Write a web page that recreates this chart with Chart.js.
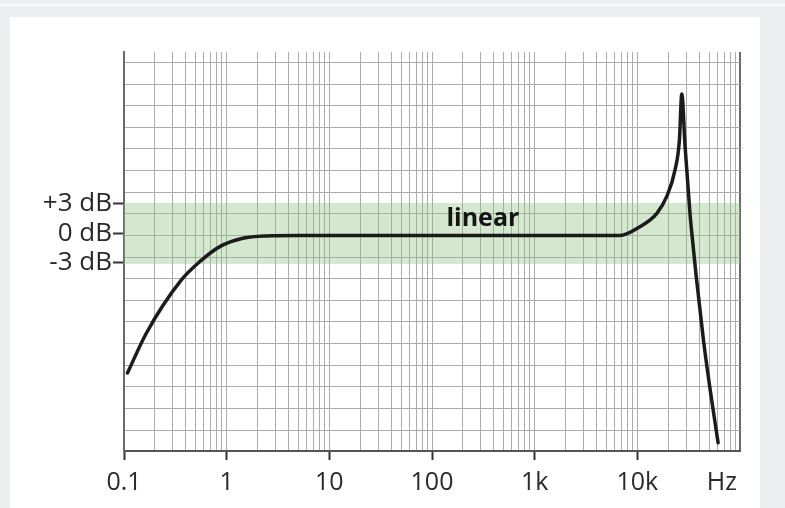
<!DOCTYPE html>
<html>
<head>
<meta charset="utf-8">
<script src="https://cdn.jsdelivr.net/npm/chart.js@4.4.1/dist/chart.umd.min.js"></script>
<style>
    html, body { margin: 0; padding: 0; }
    body { width: 785px; height: 508px; background: #eceef2; position: relative; overflow: hidden; }
    .linha { position: absolute; left: 0; top: 4px; width: 785px; height: 2px; background: #f7f8fa; }
    .cartao { position: absolute; left: 10px; top: 17px; width: 750px; height: 491px; background: #ffffff; }
    #grafico { position: absolute; left: 0; top: 0; }
</style>
</head>
<body>
<div class="linha"></div>
<div class="cartao"></div>
<canvas id="grafico" width="785" height="508"></canvas>
<script>
// frequência (Hz) e nível (dB)
const frequencias = [0.108, 0.165, 0.362, 0.547, 0.857, 1.44, 2.44, 5, 50, 500, 5000, 6760,
    10600, 15500, 19300, 23300, 25700, 27100, 29200, 32600, 34500, 37300, 44000, 51200, 61200];
const niveis = [-14.2, -10.15, -4.73, -2.87, -1.34, -0.49, -0.25, -0.2, -0.2, -0.2, -0.2, -0.2,
    0.69, 2.05, 3.74, 6.46, 9.5, 14.2, 8.8, 2.0, -0.7, -4.2, -10.8, -15.9, -21.3];

// rótulos dos eixos
const decadas = [0.1, 1, 10, 100, 1000, 10000];
const rotulosX = ['0.1', '1', '10', '100', '1k', '10k'];
const unidadeX = 'Hz';
const posUnidadeX = 66500;
const valoresDb = [3, 0, -3];
const rotulosDb = ['+3 dB', '0 dB', '-3 dB'];

// faixa linear (dB) e texto
const faixaAlta = 3.1;
const faixaBaixa = -3.1;
const textoFaixa = 'linear';
const textoFreq = 313;
const textoDb = 1.5;

const xMin = 0.1, xMax = 100000;
const yMin = -22.13, yMax = 18.46;
const passoGrade = 2.2, origemGrade = -0.2;

const corGrade = '#acacac';
const corTexto = '#2a2a2a';
const fonte = "'Open Sans', 'DejaVu Sans', sans-serif";

const ticksX = [];
for (let d = xMin; d < xMax; d *= 10) {
    for (let m = 1; m <= 9; m++) ticksX.push(+(d * m).toPrecision(3));
}
ticksX.push(xMax);
ticksX.push(posUnidadeX);

const ticksY = [];
for (let k = -9; k <= 8; k++) ticksY.push(+(origemGrade + k * passoGrade).toFixed(2));
valoresDb.forEach(v => ticksY.push(v));

const rotuloX = v => {
    if (v === posUnidadeX) return unidadeX;
    const i = decadas.indexOf(v);
    return i >= 0 ? rotulosX[i] : '';
};
const ehGradeY = t => t && t.dbLabel !== true;

const faixaPlugin = {
    id: 'faixa',
    beforeDatasetsDraw(chart) {
        const { ctx, chartArea, scales } = chart;
        const topo = scales.y.getPixelForValue(faixaAlta);
        const base = scales.y.getPixelForValue(faixaBaixa);
        ctx.save();
        ctx.fillStyle = 'rgba(140, 195, 130, 0.38)';
        ctx.fillRect(chartArea.left, topo, chartArea.right - chartArea.left, base - topo);
        ctx.restore();
    },
    afterDatasetsDraw(chart) {
        const { ctx, scales } = chart;
        ctx.save();
        ctx.font = "bold 25px " + fonte;
        ctx.fillStyle = '#151515';
        ctx.textAlign = 'center';
        ctx.textBaseline = 'middle';
        ctx.fillText(textoFaixa, scales.x.getPixelForValue(textoFreq), scales.y.getPixelForValue(textoDb));
        ctx.restore();
    }
};

new Chart(document.getElementById('grafico').getContext('2d'), {
    type: 'line',
    data: {
        datasets: [{
            data: frequencias.map((f, i) => ({ x: f, y: niveis[i] })),
            borderColor: '#1b1b1b',
            borderWidth: 3.5,
            pointRadius: 0,
            cubicInterpolationMode: 'monotone',
            borderCapStyle: 'round',
            fill: false
        }]
    },
    options: {
        responsive: false,
        animation: false,
        events: [],
        layout: { padding: { top: 52, right: 45, left: 0, bottom: 0 } },
        plugins: { legend: { display: false }, tooltip: { enabled: false } },
        scales: {
            x: {
                type: 'logarithmic',
                min: xMin,
                max: xMax,
                afterBuildTicks: scale => { scale.ticks = ticksX.map(v => ({ value: v })); },
                afterFit: scale => { scale.height = 57; },
                ticks: {
                    autoSkip: false,
                    maxRotation: 0,
                    padding: 8,
                    color: corTexto,
                    font: { family: fonte, size: 25 },
                    callback: v => rotuloX(v)
                },
                grid: {
                    color: c => {
                        const v = c.tick && c.tick.value;
                        if (v === posUnidadeX) return 'rgba(0,0,0,0)';
                        if (v === xMax) return '#6a6a6a';
                        return corGrade;
                    },
                    lineWidth: c => (c.tick && c.tick.value === xMax) ? 2 : 1,
                    tickColor: c => (c.tick && decadas.includes(c.tick.value)) ? '#333333' : 'rgba(0,0,0,0)',
                    tickWidth: 2,
                    tickLength: 9
                },
                border: { display: true, color: '#555555', width: 2 }
            },
            y: {
                type: 'linear',
                min: yMin,
                max: yMax,
                afterBuildTicks: scale => {
                    scale.ticks = ticksY.map((v, i) => ({ value: v, dbLabel: i >= ticksY.length - valoresDb.length }));
                },
                afterFit: scale => { scale.width = 124; },
                ticks: {
                    autoSkip: false,
                    padding: 1,
                    color: corTexto,
                    font: { family: fonte, size: 26 },
                    callback: function (v, i, ticks) {
                        return ticks[i].dbLabel ? rotulosDb[valoresDb.indexOf(v)] : '';
                    }
                },
                grid: {
                    color: c => ehGradeY(c.tick) ? corGrade : 'rgba(0,0,0,0)',
                    tickColor: c => ehGradeY(c.tick) ? 'rgba(0,0,0,0)' : '#333333',
                    tickWidth: 2,
                    tickLength: 11
                },
                border: { display: true, color: '#6a6a6a', width: 2 }
            }
        }
    },
    plugins: [faixaPlugin]
});
</script>
</body>
</html>
